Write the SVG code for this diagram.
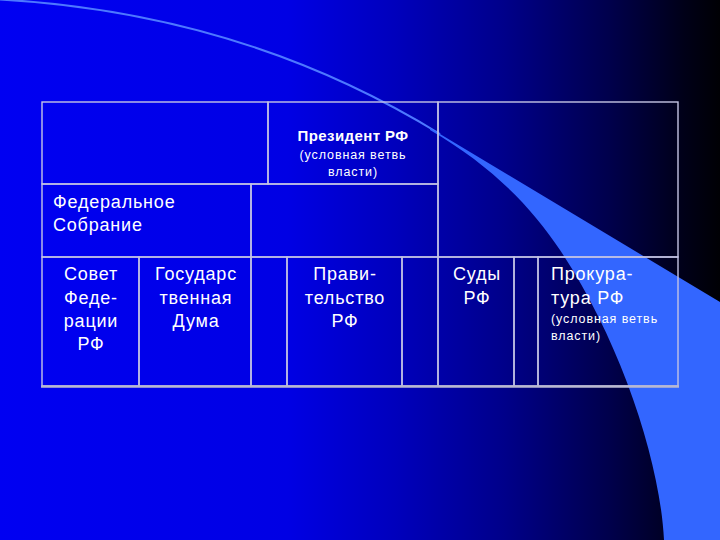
<svg xmlns="http://www.w3.org/2000/svg" width="720" height="540" viewBox="0 0 720 540">
  <defs>
    <linearGradient id="bg" x1="0" y1="0" x2="1" y2="0">
      <stop offset="0" stop-color="#0000f2"/>
      <stop offset="0.4" stop-color="#0000e4"/>
      <stop offset="0.55" stop-color="#0000bc"/>
      <stop offset="0.7" stop-color="#00008a"/>
      <stop offset="0.85" stop-color="#00004a"/>
      <stop offset="0.95" stop-color="#000018"/>
      <stop offset="1" stop-color="#000004"/>
    </linearGradient>
    <style>
      .cell { fill: none; stroke: #c4c4e4; stroke-width: 1.4; }
      .t { fill: #ffffff; font-family: "Liberation Sans", Arial, sans-serif; }
      .big { font-size: 18px; letter-spacing: 0.8px; }
      .small { font-size: 12.5px; letter-spacing: 0.9px; }
      .bold { font-size: 15px; font-weight: bold; letter-spacing: 0.4px; }
      .mid { text-anchor: middle; }
    </style>
  </defs>

  <rect x="0" y="0" width="720" height="540" fill="url(#bg)"/>

  <g id="swoosh">
    <path d="M 0,-0.5 C 150,8 300,48 440,134" fill="none" stroke="#4d78ff" stroke-width="2"/>
    <path d="M 430,128 L 720,302 L 720,540 L 664,540 C 660,460 620,340 560,250 C 530,205 490,165 430,130 Z" fill="#3366ff"/>
  </g>

  <g id="cell-top-left"><rect class="cell" x="42" y="102" width="226" height="82"/></g>
  <g id="president">
    <rect class="cell" x="268" y="102" width="170" height="82"/>
    <text class="t bold mid" x="353" y="141">Президент РФ</text>
    <text class="t small mid" x="353" y="159">(условная ветвь</text>
    <text class="t small mid" x="353" y="176">власти)</text>
  </g>
  <g id="cell-top-right"><rect class="cell" x="438" y="102" width="240" height="155"/></g>
  <g id="federal-sobranie">
    <rect class="cell" x="42" y="184" width="209" height="73"/>
    <text class="t big" x="53" y="208">Федеральное</text>
    <text class="t big" x="53" y="231">Собрание</text>
  </g>
  <g id="cell-mid-empty"><rect class="cell" x="251" y="184" width="187" height="73"/></g>
  <g id="sovet-federacii">
    <rect class="cell" x="42" y="257" width="97" height="129"/>
    <text class="t big mid" x="91" y="280">Совет</text>
    <text class="t big mid" x="91" y="304">Феде-</text>
    <text class="t big mid" x="91" y="327">рации</text>
    <text class="t big mid" x="91" y="350">РФ</text>
  </g>
  <g id="gosduma">
    <rect class="cell" x="139" y="257" width="112" height="129"/>
    <text class="t big mid" x="196" y="280">Государс</text>
    <text class="t big mid" x="196" y="304">твенная</text>
    <text class="t big mid" x="196" y="327">Дума</text>
  </g>
  <g id="cell-gap-1"><rect class="cell" x="251" y="257" width="36" height="129"/></g>
  <g id="pravitelstvo">
    <rect class="cell" x="287" y="257" width="115" height="129"/>
    <text class="t big mid" x="345" y="280">Прави-</text>
    <text class="t big mid" x="345" y="304">тельство</text>
    <text class="t big mid" x="345" y="327">РФ</text>
  </g>
  <g id="cell-gap-2"><rect class="cell" x="402" y="257" width="36" height="129"/></g>
  <g id="sudy">
    <rect class="cell" x="438" y="257" width="76" height="129"/>
    <text class="t big mid" x="477" y="280">Суды</text>
    <text class="t big mid" x="477" y="304">РФ</text>
  </g>
  <g id="cell-gap-3"><rect class="cell" x="514" y="257" width="24" height="129"/></g>
  <g id="prokuratura">
    <rect class="cell" x="538" y="257" width="140" height="129"/>
    <text class="t big" x="551" y="280">Прокура-</text>
    <text class="t big" x="551" y="304">тура РФ</text>
    <text class="t small" x="551" y="323">(условная ветвь</text>
    <text class="t small" x="551" y="340">власти)</text>
  </g>

  <g id="connectors">
    <line x1="41" y1="386.5" x2="679" y2="386.5" stroke="#b8b8d0" stroke-width="2.4"/>
  </g>
</svg>
